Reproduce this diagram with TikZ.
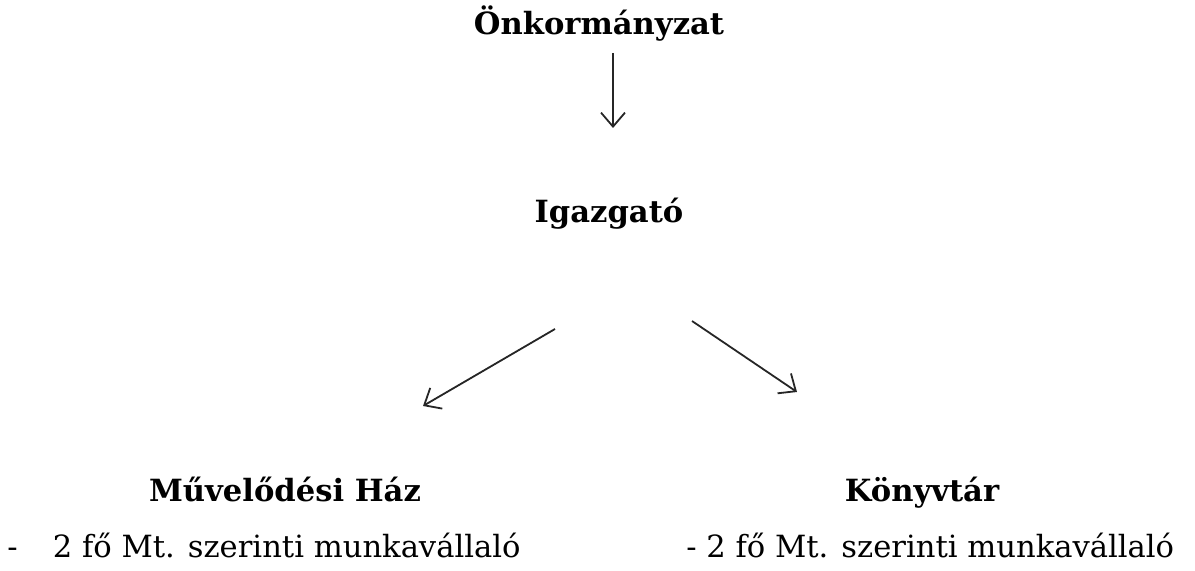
\documentclass[tikz,border=0pt]{standalone}
\usepackage{fontspec}
\setmainfont{DejaVu Serif}
\usetikzlibrary{arrows.meta}

\begin{document}
\begin{tikzpicture}[x=0.5pt,y=-0.5pt,
		cim/.style={font=\fontsize{15.3}{17}\selectfont\bfseries, inner sep=0pt, anchor=base},
		sor/.style={font=\fontsize{15.3}{17}\selectfont, inner sep=0pt, anchor=base west},
		nyil/.style={line width=0.9pt, color=black!85, -{Straight Barb[length=7pt,width=12pt]}}]
		
		\useasboundingbox (0,0) rectangle (1195,571);
		
		% Vezetés
		\node[cim] (onk) at (599,35) {Önkormányzat};
		\node[cim] (igazgato) at (609,223) {Igazgató};
		
		% Intézmények
		\node[cim] (muv) at (285,502) {Művelődési Ház};
		\node[cim] (konyv) at (922,502) {Könyvtár};
		
		% Létszám
		\node[sor] (muvlet) at (7,558) {-\hspace{1.15em}2 fő Mt. szerinti munkavállaló};
		\node[sor] (konyvlet) at (686,558) {- 2 fő Mt. szerinti munkavállaló};
		
		% Nyilak végpontjai
		\coordinate (fentA) at (613,53);
		\coordinate (lentA) at (613,128);
		\coordinate (balA) at (555,329);
		\coordinate (balB) at (423,406);
		\coordinate (jobbA) at (692,321);
		\coordinate (jobbB) at (797,392);
		
		% Nyilak
		\draw[nyil] (fentA)--(lentA); % önkormányzat -> igazgató
		\draw[nyil] (balA)--(balB); % igazgató -> művelődési ház
		\draw[nyil] (jobbA)--(jobbB); % igazgató -> könyvtár
		
	\end{tikzpicture}
\end{document}
